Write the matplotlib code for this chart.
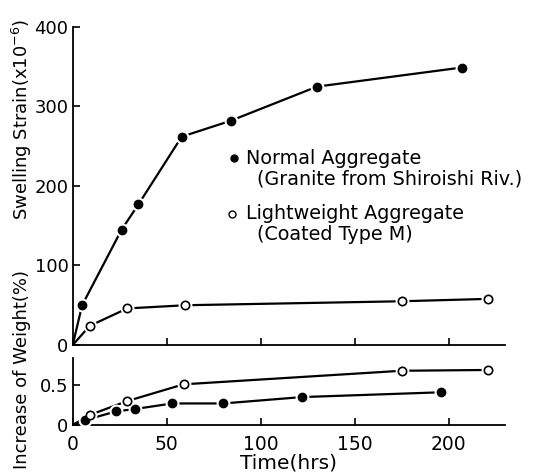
import matplotlib
matplotlib.use("Agg")
import matplotlib.pyplot as plt

# swelling strain (x10^-6)
normal_strain_t = [0, 5, 26, 35, 58, 84, 130, 207]
normal_strain = [0, 50, 145, 177, 262, 282, 325, 349]
light_strain_t = [0, 9, 29, 60, 175, 221]
light_strain = [0, 24, 46, 50, 55, 58]

# increase of weight (%)
normal_weight_t = [0, 6.5, 23, 33, 53, 80, 122, 196]
normal_weight = [0, 0.06, 0.17, 0.20, 0.27, 0.27, 0.35, 0.41]
light_weight_t = [0, 9, 29, 59, 175, 221]
light_weight = [0, 0.125, 0.30, 0.51, 0.68, 0.69]

x_ticks = [0, 50, 100, 150, 200]

plt.rcParams['font.family'] = ['DejaVu Sans']
plt.rcParams['font.size'] = 12

fig = plt.figure(figsize=(5.48, 4.75), dpi=100)
ax1 = fig.add_axes([0.1327, 0.2737, 0.7888, 0.6695])
ax2 = fig.add_axes([0.1327, 0.1053, 0.7888, 0.141])


def draw_series(ax, t, y, filled):
    ax.plot(t, y, color='black', lw=1.6, zorder=2)
    ax.plot(t[1:], y[1:], 'o', ms=9, color='white', mec='white', zorder=3)
    if filled:
        ax.plot(t[1:], y[1:], 'o', ms=6, color='black', zorder=4)
    else:
        ax.plot(t[1:], y[1:], 'o', ms=6, mfc='white', mec='black', mew=1.2, zorder=4)


draw_series(ax1, normal_strain_t, normal_strain, True)
draw_series(ax1, light_strain_t, light_strain, False)
draw_series(ax2, normal_weight_t, normal_weight, True)
draw_series(ax2, light_weight_t, light_weight, False)

for ax in (ax1, ax2):
    ax.set_xlim(0, 230)
    ax.set_xticks(x_ticks)
    ax.spines['top'].set_visible(False)
    ax.spines['right'].set_visible(False)
    ax.spines['left'].set_linewidth(1.3)
    ax.spines['bottom'].set_linewidth(1.3)
    ax.tick_params(direction='in', length=5, width=1.2, labelsize=13, pad=3)

ax1.set_ylim(0, 400)
ax1.set_yticks([0, 100, 200, 300, 400])
ax1.tick_params(axis='x', labelbottom=False)

ax2.set_ylim(0, 0.84)
ax2.set_yticks([0, 0.5])
ax2.set_yticklabels(['0', '0.5'])
ax2.tick_params(axis='x', pad=7, labelsize=13.5)
ax2.set_xlabel('Time(hrs)', fontsize=14.5, labelpad=0)

fig.text(0.040, 0.748, 'Swelling Strain(x10$^{-6}$)', rotation=90,
         ha='center', va='center', fontsize=13)
fig.text(0.040, 0.223, 'Increase of Weight(%)', rotation=90,
         ha='center', va='center', fontsize=13)

# legend text in the plot
ax1.plot([86], [235], 'o', ms=5, color='black')
ax1.text(92, 235, 'Normal Aggregate', va='center', fontsize=13.8)
ax1.text(98, 209, '(Granite from Shiroishi Riv.)', va='center', fontsize=13.8)
ax1.plot([85], [165], 'o', ms=5, mfc='white', mec='black', mew=1)
ax1.text(92, 165, 'Lightweight Aggregate', va='center', fontsize=13.8)
ax1.text(98, 139, '(Coated Type M)', va='center', fontsize=13.8)

fig.savefig('out.png', dpi=100)
